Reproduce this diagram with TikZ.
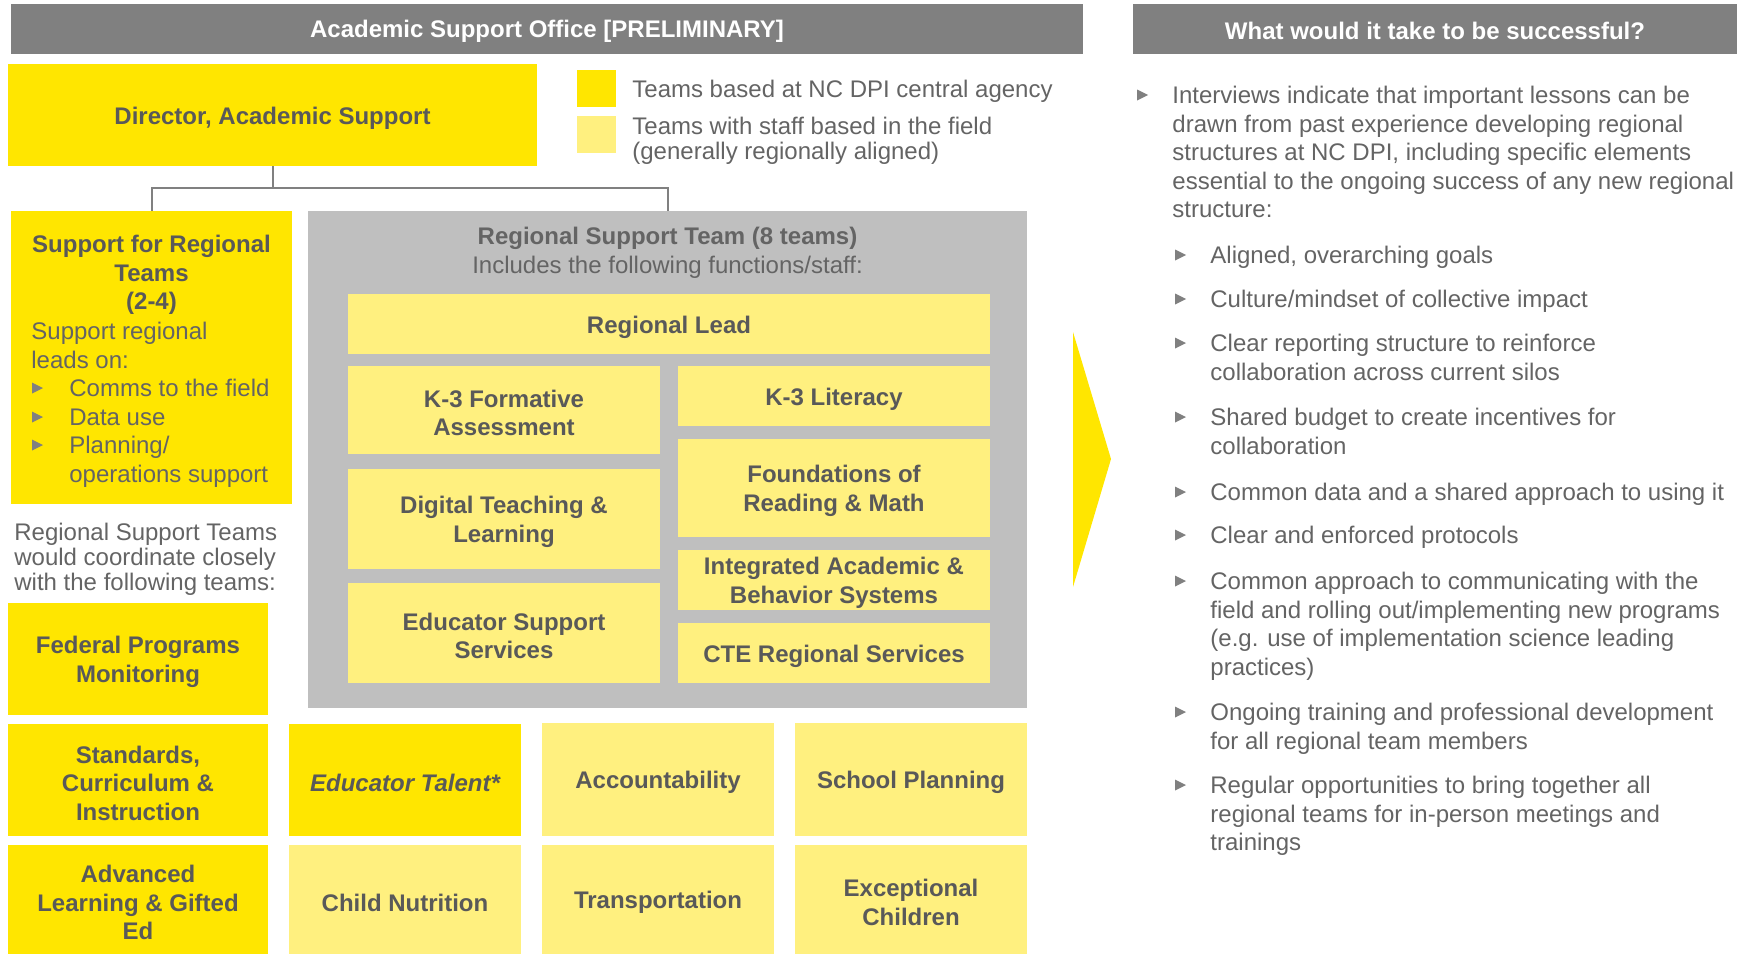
\documentclass[tikz,border=0pt]{standalone}
\usepackage{fontspec}
\setmainfont{Liberation Sans}
\usetikzlibrary{fit}
\definecolor{eyY}{HTML}{FFE600}
\definecolor{eyL}{HTML}{FFF07F}
\definecolor{hdr}{HTML}{808080}
\definecolor{rgn}{HTML}{BFBFBF}
\definecolor{txt}{HTML}{595959}
\definecolor{txtr}{HTML}{646464}
\definecolor{bul}{HTML}{808080}
\newcommand\fs{\fontsize{12}{14.25}\selectfont}
\newcommand\fsl{\fontsize{12}{12.5}\selectfont}
\newcommand\tri[2]{\fill[bul] (#1,#2-5.5) -- (#1+11,#2) -- (#1,#2+5.5) -- cycle;}
% box: style, name, x1, y1, x2, y2, text
\newcommand\bx[7]{\node[#1, fit={(#3,#4) (#5,#6)}] (#2) {};
  \node[#1 text] (#2t) at (#2.center) {#7};}
\tikzset{
  dkbox/.style={fill=eyY, inner sep=0pt},
  ltbox/.style={fill=eyL, inner sep=0pt},
  hdrbox/.style={fill=hdr, inner sep=0pt},
  dkbox text/.style={inner sep=0pt, align=center, text=txt, font=\fs\bfseries, yshift=-1.5pt},
  ltbox text/.style={inner sep=0pt, align=center, text=txt, font=\fs\bfseries, yshift=-1.5pt},
  hdrbox text/.style={inner sep=0pt, text=white, font=\fs\bfseries, yshift=-1pt},
  plain/.style={inner sep=0pt, text=txtr, align=left, font=\fs, anchor=north west},
  conn/.style={draw=hdr, line width=1pt},
}
\begin{document}
\begin{tikzpicture}[x=0.5pt,y=-0.5pt]
\useasboundingbox (0,0) rectangle (1750,954);
% headers
\bx{hdrbox}{hL}{11}{4}{1083}{54}{Academic Support Office [PRELIMINARY]}
\bx{hdrbox}{hR}{1133}{4}{1737}{54}{What would it take to be successful?}
% director
\bx{dkbox}{dir}{8}{64}{537}{166}{Director, Academic Support}
% legend
\node[fill=eyY, inner sep=0pt, fit={(577,70) (616,107)}] (lg1) {};
\node[fill=eyL, inner sep=0pt, fit={(577,116) (616,153)}] (lg2) {};
\node[plain, font=\fsl] (lt1) at (632,80) {Teams based at NC DPI central agency};
\node[plain, font=\fsl] (lt2) at (632,117) {Teams with staff based in the field\\(generally regionally aligned)};
% support box
\node[dkbox, fit={(11,211) (292,504)}] (sup) {};
\node[inner sep=0pt, align=center, text=txt, font=\fs\bfseries, anchor=north] (supH) at (151.5,235) {Support for Regional\\Teams\\(2-4)};
\node[plain] (supB) at (31,322) {Support regional\\leads on:};
\tri{32}{388}
\tri{32}{417}
\tri{32}{445}
\node[plain] (supL) at (69,379) {Comms to the field\\Data use\\Planning/\\operations support};
% region box
\node[fill=rgn, inner sep=0pt, fit={(308,211) (1027,708)}] (rgn) {};
\node[inner sep=0pt, align=center, text=txtr, font=\fs, anchor=north] (rgnT) at (667.5,227) {{\bfseries Regional Support Team (8 teams)}\\Includes the following functions/staff:};
\bx{ltbox}{rl}{348}{294}{990}{354}{Regional Lead}
\bx{ltbox}{k3f}{348}{366}{660}{454}{K-3 Formative\\Assessment}
\bx{ltbox}{k3l}{678}{366}{990}{426}{K-3 Literacy}
\bx{ltbox}{frm}{678}{439}{990}{537}{Foundations of\\Reading \& Math}
\bx{ltbox}{dtl}{348}{469}{660}{569}{Digital Teaching \&\\Learning}
\bx{ltbox}{iab}{678}{550}{990}{610}{Integrated Academic \&\\Behavior Systems}
\bx{ltbox}{ess}{348}{583}{660}{683}{Educator Support\\Services}
\bx{ltbox}{cte}{678}{623}{990}{683}{CTE Regional Services}
% connectors
\coordinate (jn) at (272.5,188);
\draw[conn] (dir.south) -- (jn);
\draw[conn] (sup.north) |- (jn) -| (rgn.north);
% note
\node[plain, font=\fsl] (note) at (14,523) {Regional Support Teams\\would coordinate closely\\with the following teams:};
% bottom grid
\bx{dkbox}{fpm}{8}{603}{268}{715}{Federal Programs\\Monitoring}
\bx{dkbox}{sci}{8}{724}{268}{836}{Standards,\\Curriculum \&\\Instruction}
\bx{dkbox}{alg}{8}{845}{268}{954}{Advanced\\Learning \& Gifted\\Ed}
\bx{dkbox}{et}{289}{724}{521}{836}{\itshape Educator Talent*}
\bx{ltbox}{acc}{542}{723}{774}{836}{Accountability}
\bx{ltbox}{sp}{795}{723}{1027}{836}{School Planning}
\bx{ltbox}{cn}{289}{845}{521}{954}{Child Nutrition}
\bx{ltbox}{tr}{542}{845}{774}{954}{Transportation}
\bx{ltbox}{ec}{795}{845}{1027}{954}{Exceptional\\Children}
% chevron
\fill[eyY] (1073,332) -- (1111,459) -- (1073,587) -- cycle;
% right text
\tri{1137}{95}
\node[plain] (p1) at (1172,86) {Interviews indicate that important lessons can be\\drawn from past experience developing regional\\structures at NC DPI, including specific elements\\essential to the ongoing success of any new regional\\structure:};
\tri{1175}{255}
\node[plain] (s1) at (1210,246) {Aligned, overarching goals};
\tri{1175}{299}
\node[plain] (s2) at (1210,290) {Culture/mindset of collective impact};
\tri{1175}{343}
\node[plain] (s3) at (1210,334) {Clear reporting structure to reinforce\\collaboration across current silos};
\tri{1175}{417}
\node[plain] (s4) at (1210,408) {Shared budget to create incentives for\\collaboration};
\tri{1175}{492}
\node[plain] (s5) at (1210,483) {Common data and a shared approach to using it};
\tri{1175}{535}
\node[plain] (s6) at (1210,526) {Clear and enforced protocols};
\tri{1175}{581}
\node[plain] (s7) at (1210,572) {Common approach to communicating with the\\field and rolling out/implementing new programs\\(e.g. use of implementation science leading\\practices)};
\tri{1175}{712}
\node[plain] (s8) at (1210,703) {Ongoing training and professional development\\for all regional team members};
\tri{1175}{785}
\node[plain] (s9) at (1210,776) {Regular opportunities to bring together all\\regional teams for in-person meetings and\\trainings};
\end{tikzpicture}
\end{document}
